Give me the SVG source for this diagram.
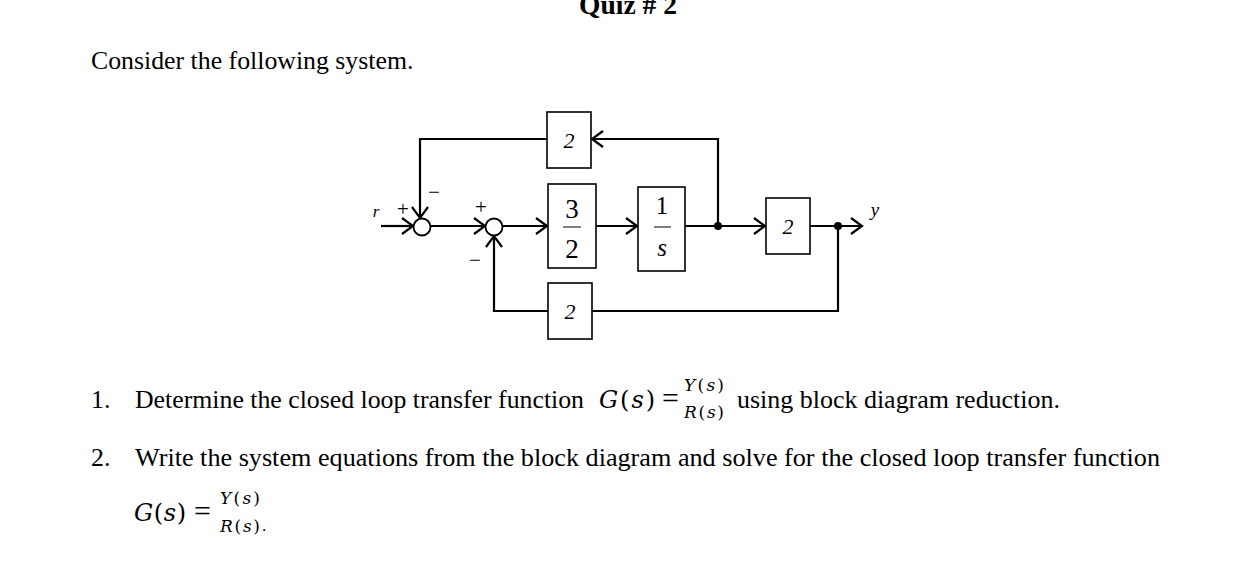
<svg xmlns="http://www.w3.org/2000/svg" width="1246" height="575" viewBox="0 0 1246 575">
<defs>
<style>
.t{font-family:"Liberation Serif","Times New Roman",serif;fill:#000}
.m{font-family:"DejaVu Serif","Liberation Serif",serif;font-style:italic;fill:#000}
.mi{font-family:"Liberation Serif","Times New Roman",serif;font-style:italic;fill:#000}
.box{fill:#fff;stroke:#000;stroke-width:1.6}
.ln{fill:none;stroke:#000;stroke-width:2.2}
.sum{fill:#fff;stroke:#000;stroke-width:1.8}
</style>
<marker id="ah" markerWidth="16" markerHeight="20" refX="13" refY="10" orient="auto" markerUnits="userSpaceOnUse">
<path d="M2,2 L13,10 L2,18" fill="none" stroke="#000" stroke-width="2.2"/>
</marker>
</defs>
<rect width="1246" height="575" fill="#fff"/>
<text class="t" x="628" y="14" font-size="27.5" font-weight="bold" text-anchor="middle">Quiz # 2</text>
<text class="t" x="91" y="69" font-size="25.8">Consider the following system.</text>

<g id="connectors">
<line class="ln" x1="381" y1="226" x2="413" y2="226" marker-end="url(#ah)"/>
<line class="ln" x1="431" y1="226" x2="485" y2="226" marker-end="url(#ah)"/>
<line class="ln" x1="503" y1="226" x2="547" y2="226" marker-end="url(#ah)"/>
<line class="ln" x1="596" y1="226" x2="637" y2="226" marker-end="url(#ah)"/>
<line class="ln" x1="685" y1="226" x2="765" y2="226" marker-end="url(#ah)"/>
<line class="ln" x1="810" y1="226" x2="862" y2="226" marker-end="url(#ah)"/>
<polyline class="ln" points="718,226 718,139 592,139" marker-end="url(#ah)"/>
<polyline class="ln" points="547,139 420,139 420,218" marker-end="url(#ah)"/>
<polyline class="ln" points="838,226 838,311 592,311"/>
<polyline class="ln" points="548,311 494,311 494,236" marker-end="url(#ah)"/>
<circle cx="718" cy="226" r="4" fill="#000"/>
<circle cx="838" cy="226" r="4" fill="#000"/>
</g>

<g id="sum1">
<circle class="sum" cx="422" cy="227" r="8.5"/>
<text class="t" x="403" y="216" font-size="21" text-anchor="middle">+</text>
<text class="t" x="434" y="199" font-size="21" text-anchor="middle">−</text>
</g>
<g id="sum2">
<circle class="sum" cx="494" cy="227" r="8.5"/>
<text class="t" x="481" y="214" font-size="21" text-anchor="middle">+</text>
<text class="t" x="475" y="267" font-size="21" text-anchor="middle">−</text>
</g>
<g id="input">
<text class="mi" x="376" y="217" font-size="17" text-anchor="middle">r</text>
</g>
<g id="output">
<text class="mi" x="875" y="216" font-size="19" text-anchor="middle">y</text>
</g>

<g id="box-top">
<rect class="box" x="547" y="112" width="44" height="56"/>
<text class="mi" x="569" y="148" font-size="22" text-anchor="middle">2</text>
</g>
<g id="box-32">
<rect class="box" x="548" y="184" width="48" height="84"/>
<text class="t" x="572" y="218" font-size="27" text-anchor="middle">3</text>
<line x1="563" y1="227" x2="581" y2="227" stroke="#000" stroke-width="1"/>
<text class="t" x="572" y="258" font-size="27" text-anchor="middle">2</text>
</g>
<g id="box-1s">
<rect class="box" x="638" y="187" width="47" height="84"/>
<text class="t" x="662" y="214" font-size="25" text-anchor="middle">1</text>
<line x1="654" y1="227" x2="671" y2="227" stroke="#000" stroke-width="1"/>
<text class="mi" x="662" y="256" font-size="25" text-anchor="middle">s</text>
</g>
<g id="box-right">
<rect class="box" x="766" y="198" width="44" height="56"/>
<text class="mi" x="788" y="234" font-size="22" text-anchor="middle">2</text>
</g>
<g id="box-bottom">
<rect class="box" x="548" y="283" width="44" height="56"/>
<text class="mi" x="570" y="319" font-size="22" text-anchor="middle">2</text>
</g>

<g id="questions">
<text class="t" x="91" y="408" font-size="25.8">1.</text>
<text class="t" x="135" y="408" font-size="25.8" textLength="449" lengthAdjust="spacingAndGlyphs">Determine the closed loop transfer function</text>
<text class="m" x="599" y="408" font-size="24" textLength="56">G<tspan font-style="normal">(</tspan>s<tspan font-style="normal">)</tspan></text>
<text class="t" x="662" y="408" font-size="30">=</text>
<text class="m" x="704" y="391" font-size="17" text-anchor="middle" textLength="40">Y<tspan font-style="normal">(</tspan>s<tspan font-style="normal">)</tspan></text>
<text class="m" x="704" y="418" font-size="17" text-anchor="middle" textLength="40">R<tspan font-style="normal">(</tspan>s<tspan font-style="normal">)</tspan></text>
<text class="t" x="737" y="408" font-size="25.8" textLength="323" lengthAdjust="spacingAndGlyphs">using block diagram reduction.</text>

<text class="t" x="91" y="466" font-size="25.8">2.</text>
<text class="t" x="135" y="466" font-size="25.8" textLength="1025" lengthAdjust="spacingAndGlyphs">Write the system equations from the block diagram and solve for the closed loop transfer function</text>
<text class="m" x="134" y="521" font-size="24" textLength="52">G<tspan font-style="normal">(</tspan>s<tspan font-style="normal">)</tspan></text>
<text class="t" x="194" y="521" font-size="30">=</text>
<text class="m" x="240" y="504" font-size="17" text-anchor="middle" textLength="40">Y<tspan font-style="normal">(</tspan>s<tspan font-style="normal">)</tspan></text>
<text class="m" x="240" y="532" font-size="17" text-anchor="middle" textLength="40">R<tspan font-style="normal">(</tspan>s<tspan font-style="normal">)</tspan></text>
<text class="t" x="262" y="531" font-size="17">.</text>
</g>
</svg>
